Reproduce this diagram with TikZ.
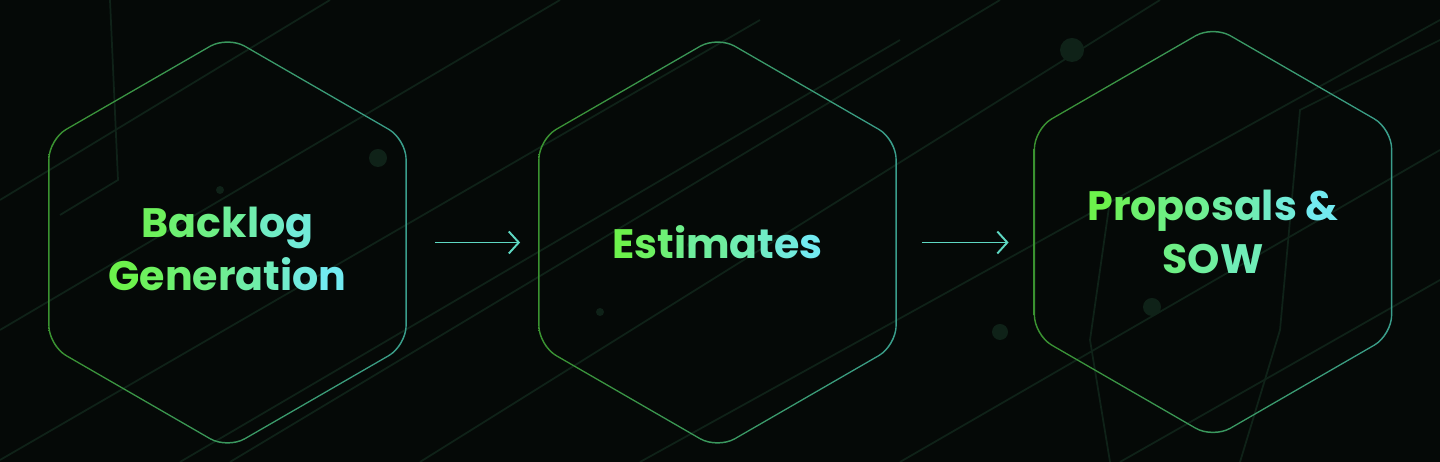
\documentclass[tikz,border=0pt]{standalone}
\usepackage{fontspec}
\setmainfont{Poppins}
\usetikzlibrary{shapes.geometric,arrows.meta}

\definecolor{bgdark}{HTML}{050907}
\definecolor{tracecol}{HTML}{0F2218}
\definecolor{hexgreen}{HTML}{3A9230}
\definecolor{hexteal}{HTML}{3A9E8C}
\definecolor{txtgreen}{HTML}{6CF24C}
\definecolor{txtcyan}{HTML}{72EAF0}
\definecolor{flowcol}{HTML}{5ED8C2}

% letter by letter colour run, #1 and #2 in percent of cyan
\ExplSyntaxOn
\NewDocumentCommand\gradword{mmm}{
  \int_set:Nn \l_tmpa_int {\tl_count:n {#3}}
  \int_zero:N \l_tmpb_int
  \tl_map_inline:nn {#3}{
    \int_incr:N \l_tmpb_int
    \color{txtcyan!\int_eval:n{#1+(#2-#1)*(\l_tmpb_int-1)/\int_max:nn{1}{\l_tmpa_int-1}}!txtgreen}##1
  }
}
\ExplSyntaxOff

% outline of a stage, as a thin shaded ring (#1: vertical offset)
\newcommand\hexring[2][0]{%
  \shade[left color=hexgreen, right color=hexteal, even odd rule, rounded corners=0.2cm]
    ([shift={(0,#1)},shift={(180:179.3)}]#2.center) \foreach \ang in {210,270,330,30,90,150} {-- ([shift={(0,#1)},shift={(\ang:207)}]#2.center)} -- cycle
    ([shift={(0,#1)},shift={(180:178)}]#2.center) \foreach \ang in {210,270,330,30,90,150} {-- ([shift={(0,#1)},shift={(\ang:205.5)}]#2.center)} -- cycle;
}

\tikzset{
  stage/.style={regular polygon, regular polygon sides=6, shape border rotate=30,
    minimum size=4.14cm, inner sep=0pt, outer sep=0pt, align=center,
    font=\bfseries\fontsize{11.7}{15}\selectfont},
  flow/.style={draw=flowcol, line width=0.55pt, -{Straight Barb[length=0.1cm,width=0.22cm]}},
  trace/.style={draw=tracecol, line width=0.5pt},
}

\begin{document}
\begin{tikzpicture}[x=0.01cm, y=-0.01cm]
    \fill[bgdark] (0,0) rectangle (1440,462);
    \useasboundingbox (0,0) rectangle (1440,462);
    % background traces
    \foreach \sx/\sy/\ex/\ey in {0/330/560/0, 0/460/760/20, 180/462/900/40, 420/462/1160/0,
        640/462/1440/20, 900/462/1440/150, 1120/462/1440/280, 0/200/330/0, 230/462/1000/0}
      \draw[trace] (\sx,\sy) -- (\ex,\ey);
    \draw[trace] (110,0) -- (118,180) -- (60,215);
    \draw[trace] (1440,40) -- (1300,110) -- (1280,330) -- (1240,462);
    \draw[trace] (1110,200) -- (1090,340) -- (1110,462);
    \foreach \px/\py/\pr in {378/158/9, 220/190/4, 1072/50/12, 1152/307/9, 1000/332/8, 600/312/4, 690/245/3}
      \fill[tracecol] (\px,\py) circle (\pr);
    % Nodes
    \node[stage] (backlog) at (227.5,249) {\gradword{10}{85}{Backlog}\\\gradword{0}{100}{Generation}};
    \node[stage] (estimates) at (717.5,242.5) {\gradword{0}{100}{Estimates}};
    \node[stage] (proposals) at (1213,232) {\gradword{0}{85}{Proposals}\ \gradword{100}{100}{\&}\\\gradword{35}{65}{SOW}};
    \hexring[-6.5]{backlog}
    \hexring{estimates}
    \hexring{proposals}
    \draw[flow, shorten <=0.28cm, shorten >=0.18cm] (backlog.east |- estimates.west) -- (estimates.west);
    \draw[flow, shorten <=0.25cm, shorten >=0.25cm] (estimates.east) -- (estimates.east -| proposals.west);
\end{tikzpicture}
\end{document}
